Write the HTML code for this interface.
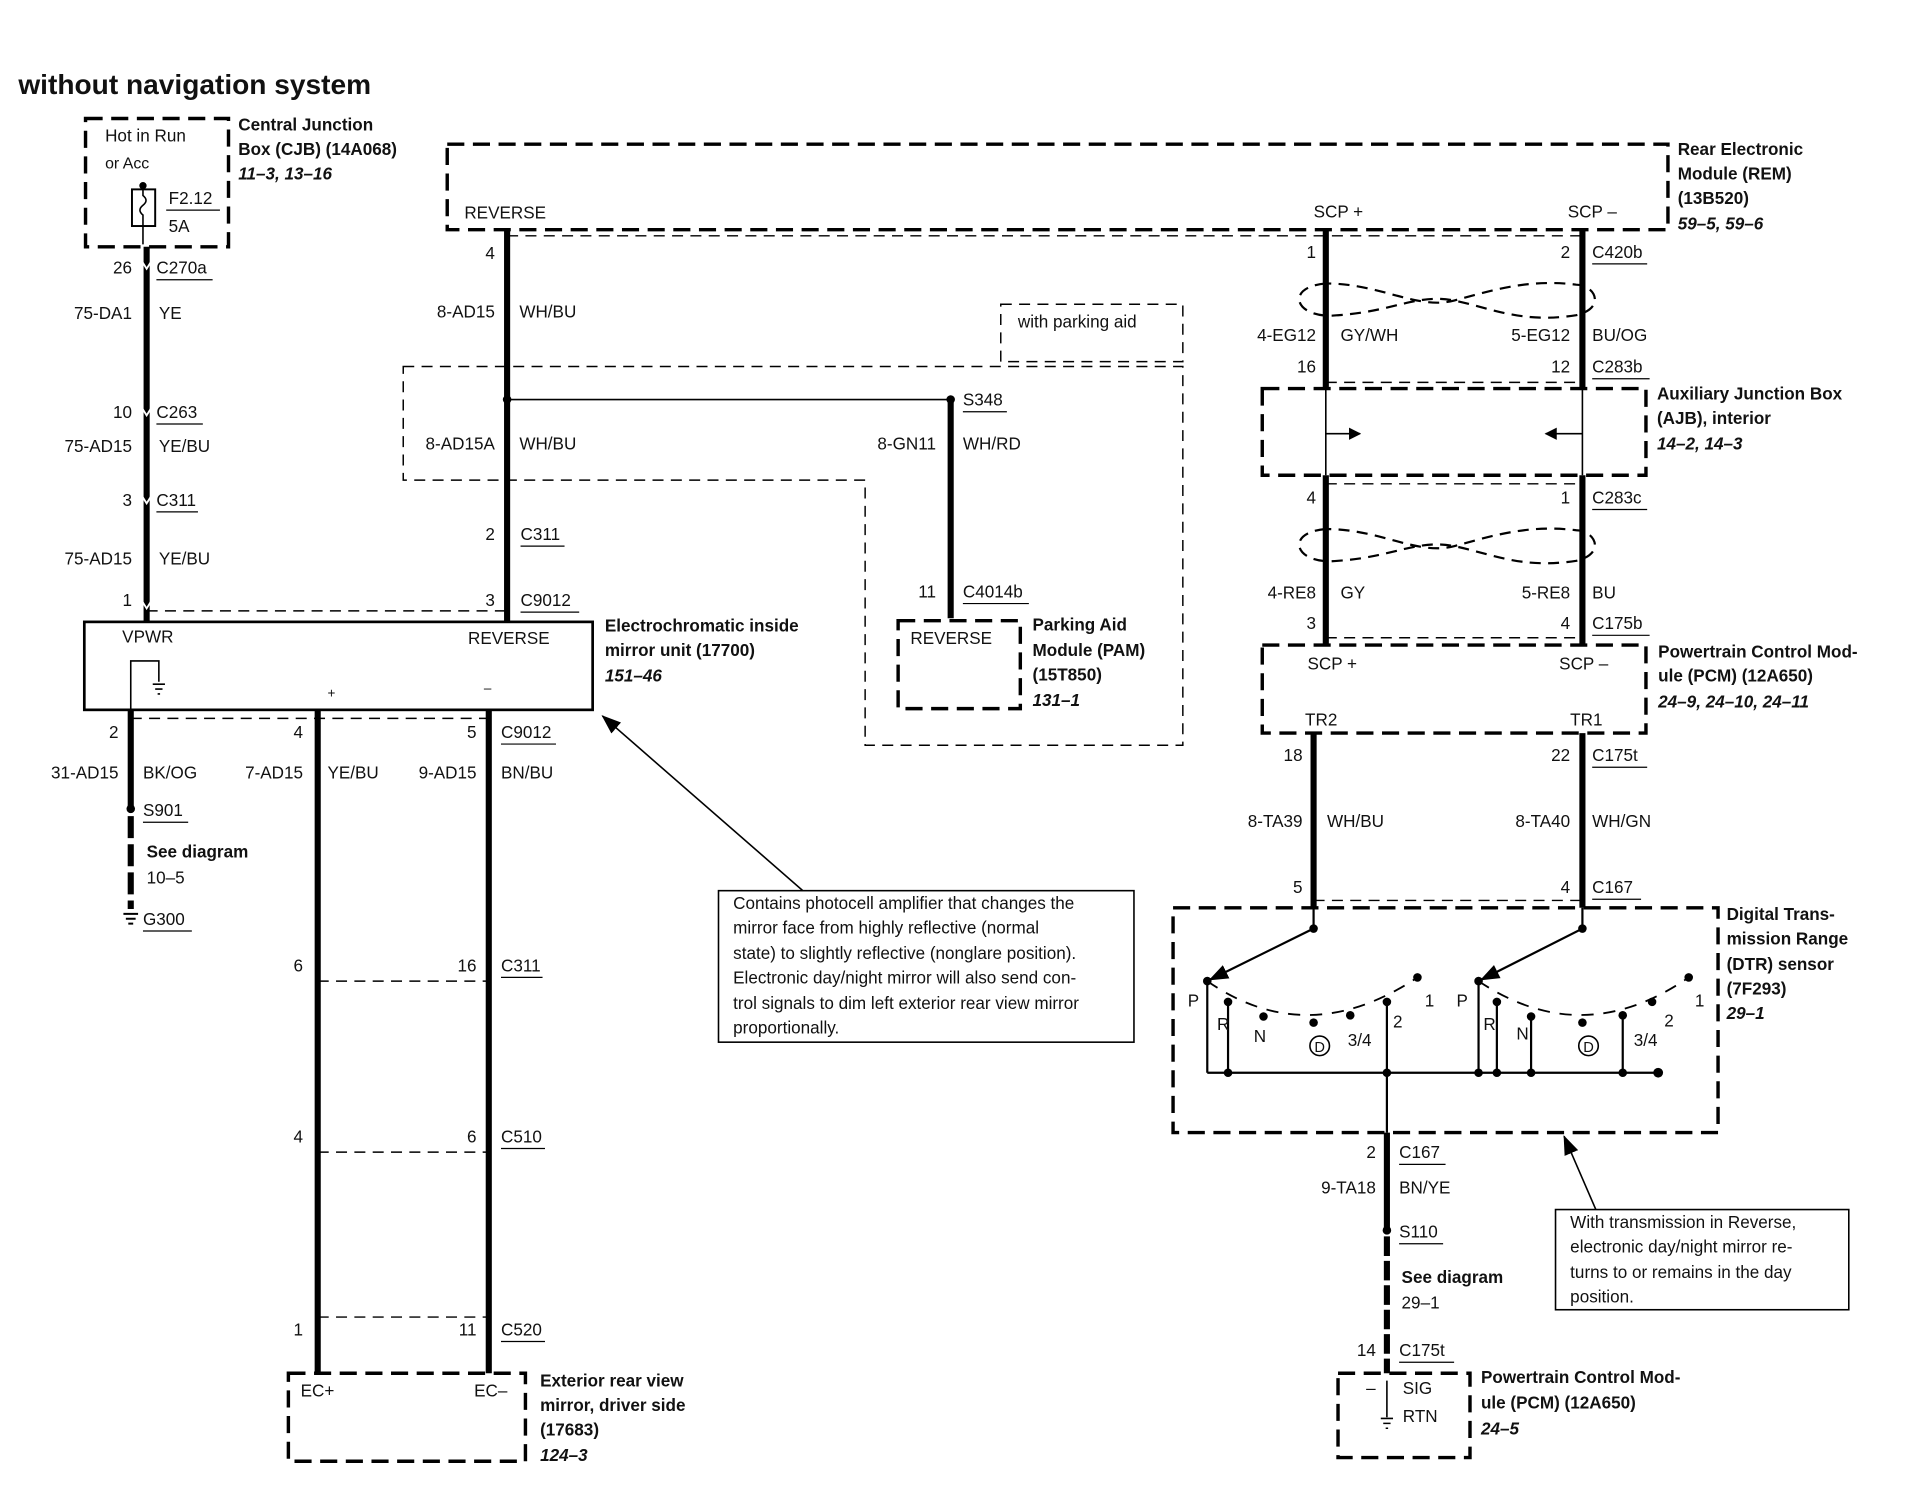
<!DOCTYPE html>
<html><head><meta charset="utf-8"><style>
html,body{margin:0;padding:0;background:#fff;}
svg{display:block;}
text{font-family:"Liberation Sans",Arial,sans-serif;font-size:14px;fill:#111;}
.b{font-weight:bold;}
.i{font-weight:bold;font-style:italic;}
.r{text-anchor:end;}
.w{stroke:#000;stroke-width:5;fill:none;}
.t{stroke:#000;stroke-width:1.3;fill:none;}
.d{stroke:#000;stroke-width:1.2;fill:none;stroke-dasharray:9 6;}
.D{stroke:#000;stroke-width:2.8;fill:none;stroke-dasharray:14 7;}
.s{stroke:#000;stroke-width:2.2;fill:none;}
.u{stroke:#000;stroke-width:1;}
</style></head><body>
<svg width="1916" height="1504" viewBox="0 0 1568 1231" preserveAspectRatio="none" xmlns="http://www.w3.org/2000/svg">
<defs>
<marker id="ah" markerWidth="10" markerHeight="10" refX="9" refY="5" orient="auto" markerUnits="userSpaceOnUse"><path d="M0,0 L10,5 L0,10 z" fill="#000"/></marker>
<marker id="ah2" markerWidth="16" markerHeight="12" refX="15" refY="6" orient="auto" markerUnits="userSpaceOnUse"><path d="M0,0 L16,6 L0,12 z" fill="#000"/></marker>
</defs>
<text x="15" y="77" class="b" style="font-size:23px">without navigation system</text>

<!-- CJB -->
<rect x="70" y="97" width="117" height="105" class="D"/>
<text x="86" y="116">Hot in Run</text>
<text x="86" y="138" style="font-size:13px">or Acc</text>
<rect x="108" y="155" width="19" height="30" class="s" style="stroke-width:1.6"/>
<path d="M117,152 V160 q5,4 0,8 q-5,4 0,8 V200" class="t"/>
<circle cx="117" cy="152" r="3"/>
<text x="138" y="167">F2.12</text><line x1="136" y1="172" x2="180" y2="172" class="u"/>
<text x="138" y="190">5A</text>
<text x="195" y="107" class="b">Central Junction</text>
<text x="195" y="127" class="b">Box (CJB) (14A068)</text>
<text x="195" y="147" class="i">11–3, 13–16</text>

<!-- wire 120 -->
<path d="M120,202 V509" class="w"/>
<path d="M115,212 l5,8 l5,-8 M115,332 l5,8 l5,-8 M115,404 l5,8 l5,-8 M115,490 l5,8 l5,-8" class="t" style="stroke:#fff;stroke-width:1.5"/>
<text x="108" y="224" class="r">26</text><text x="128" y="224">C270a</text><line x1="128" y1="229" x2="174" y2="229" class="u"/>
<text x="108" y="261" class="r">75-DA1</text><text x="130" y="261">YE</text>
<text x="108" y="342" class="r">10</text><text x="128" y="342">C263</text><line x1="128" y1="347" x2="166" y2="347" class="u"/>
<text x="108" y="370" class="r">75-AD15</text><text x="130" y="370">YE/BU</text>
<text x="108" y="414" class="r">3</text><text x="128" y="414">C311</text><line x1="128" y1="419" x2="162" y2="419" class="u"/>
<text x="108" y="462" class="r">75-AD15</text><text x="130" y="462">YE/BU</text>
<text x="108" y="496" class="r">1</text>
<path d="M120,500 H415" class="d"/>

<!-- mirror unit -->
<rect x="69" y="509" width="416" height="72" class="s"/>
<text x="100" y="526">VPWR</text>
<text x="383" y="527">REVERSE</text>
<path d="M107,581 V541 H130 V558" class="t"/>
<path d="M125,560 h10 M127,564 h6 M129,568 h2" class="t"/>
<text x="268" y="571" style="font-size:11px">+</text>
<text x="396" y="567" style="font-size:11px">–</text>
<text x="495" y="517" class="b">Electrochromatic inside</text>
<text x="495" y="537" class="b">mirror unit (17700)</text>
<text x="495" y="558" class="i">151–46</text>

<!-- wire 415 -->
<path d="M415,188 V509" class="w"/>
<text x="405" y="212" class="r">4</text>
<text x="405" y="260" class="r">8-AD15</text><text x="425" y="260">WH/BU</text>
<circle cx="415" cy="327" r="3.5"/>
<path d="M415,327 H778" class="t"/>
<circle cx="778" cy="327" r="3.5"/>
<text x="405" y="368" class="r">8-AD15A</text><text x="425" y="368">WH/BU</text>
<text x="405" y="442" class="r">2</text><text x="426" y="442">C311</text><line x1="426" y1="447" x2="462" y2="447" class="u"/>
<text x="405" y="496" class="r">3</text><text x="426" y="496">C9012</text><line x1="426" y1="501" x2="474" y2="501" class="u"/>

<!-- parking aid regions -->
<path d="M330,300 H968 V610 H708 V393 H330 Z" class="d"/>
<rect x="819" y="249" width="149" height="47" class="d"/>
<text x="833" y="268">with parking aid</text>
<path d="M778,327 V506" class="w"/>
<text x="788" y="332">S348</text><line x1="788" y1="337" x2="824" y2="337" class="u"/>
<text x="766" y="368" class="r">8-GN11</text><text x="788" y="368">WH/RD</text>
<text x="766" y="489" class="r">11</text><text x="788" y="489">C4014b</text><line x1="788" y1="494" x2="842" y2="494" class="u"/>
<rect x="735" y="508" width="100" height="72" class="D"/>
<text x="745" y="527">REVERSE</text>
<text x="845" y="516" class="b">Parking Aid</text>
<text x="845" y="537" class="b">Module (PAM)</text>
<text x="845" y="557" class="b">(15T850)</text>
<text x="845" y="578" class="i">131–1</text>

<!-- REM -->
<rect x="366" y="118" width="999" height="70" class="D"/>
<text x="380" y="179">REVERSE</text>
<text x="1075" y="178">SCP +</text>
<text x="1283" y="178">SCP –</text>
<text x="1373" y="127" class="b">Rear Electronic</text>
<text x="1373" y="147" class="b">Module (REM)</text>
<text x="1373" y="167" class="b">(13B520)</text>
<text x="1373" y="188" class="i">59–5, 59–6</text>
<path d="M415,193 H1295" class="d"/>

<!-- SCP wires -->
<path d="M1085,188 V318 M1295,188 V318 M1085,389 V528 M1295,389 V528" class="w"/>
<path d="M1085,318 V389 M1295,318 V389" class="t"/>
<path d="M1085,232 C1050,235 1060,262 1095,258 C1140,255 1160,240 1190,246 C1220,252 1245,265 1290,258 C1315,252 1305,233 1290,233 C1250,228 1220,238 1190,246 C1160,254 1130,232 1085,232 Z" class="d" style="stroke-width:1.8"/>
<path d="M1085,433 C1050,436 1060,463 1095,459 C1140,456 1160,441 1190,447 C1220,453 1245,466 1290,459 C1315,453 1305,434 1290,434 C1250,429 1220,439 1190,447 C1160,455 1130,433 1085,433 Z" class="d" style="stroke-width:1.8"/>
<text x="1077" y="211" class="r">1</text>
<text x="1285" y="211" class="r">2</text><text x="1303" y="211">C420b</text><line x1="1303" y1="216" x2="1348" y2="216" class="u"/>
<text x="1077" y="279" class="r">4-EG12</text><text x="1097" y="279">GY/WH</text>
<text x="1285" y="279" class="r">5-EG12</text><text x="1303" y="279">BU/OG</text>
<text x="1077" y="305" class="r">16</text>
<text x="1285" y="305" class="r">12</text><text x="1303" y="305">C283b</text><line x1="1303" y1="310" x2="1350" y2="310" class="u"/>
<path d="M1085,313 H1295" class="d"/>
<rect x="1033" y="318" width="314" height="71" class="D"/>
<path d="M1085,355 H1113" class="t" marker-end="url(#ah)"/>
<path d="M1295,355 H1265" class="t" marker-end="url(#ah)"/>
<text x="1356" y="327" class="b">Auxiliary Junction Box</text>
<text x="1356" y="347" class="b">(AJB), interior</text>
<text x="1356" y="368" class="i">14–2, 14–3</text>
<path d="M1085,396 H1295" class="d"/>
<text x="1077" y="412" class="r">4</text>
<text x="1285" y="412" class="r">1</text><text x="1303" y="412">C283c</text><line x1="1303" y1="417" x2="1348" y2="417" class="u"/>
<text x="1077" y="490" class="r">4-RE8</text><text x="1097" y="490">GY</text>
<text x="1285" y="490" class="r">5-RE8</text><text x="1303" y="490">BU</text>
<text x="1077" y="515" class="r">3</text>
<text x="1285" y="515" class="r">4</text><text x="1303" y="515">C175b</text><line x1="1303" y1="520" x2="1350" y2="520" class="u"/>
<path d="M1085,522 H1295" class="d"/>

<!-- PCM -->
<rect x="1033" y="528" width="314" height="72" class="D"/>
<text x="1070" y="548">SCP +</text>
<text x="1276" y="548">SCP –</text>
<text x="1068" y="594">TR2</text>
<text x="1285" y="594">TR1</text>
<text x="1357" y="538" class="b">Powertrain Control Mod-</text>
<text x="1357" y="558" class="b">ule (PCM) (12A650)</text>
<text x="1357" y="579" class="i">24–9, 24–10, 24–11</text>
<path d="M1075,600 V743 M1295,600 V743" class="w"/>
<text x="1066" y="623" class="r">18</text>
<text x="1285" y="623" class="r">22</text><text x="1303" y="623">C175t</text><line x1="1303" y1="628" x2="1348" y2="628" class="u"/>
<text x="1066" y="677" class="r">8-TA39</text><text x="1086" y="677">WH/BU</text>
<text x="1285" y="677" class="r">8-TA40</text><text x="1303" y="677">WH/GN</text>
<text x="1066" y="731" class="r">5</text>
<text x="1285" y="731" class="r">4</text><text x="1303" y="731">C167</text><line x1="1303" y1="736" x2="1343" y2="736" class="u"/>
<path d="M1075,737 H1295" class="d"/>

<!-- DTR -->
<rect x="960" y="743" width="446" height="184" class="D"/>
<text x="1413" y="753" class="b">Digital Trans-</text>
<text x="1413" y="773" class="b">mission Range</text>
<text x="1413" y="794" class="b">(DTR) sensor</text>
<text x="1413" y="814" class="b">(7F293)</text>
<text x="1413" y="834" class="i">29–1</text>
<g fill="#000">
<path d="M1075,743 V760 L990,802" class="t" style="stroke-width:1.8" marker-end="url(#ah2)"/>
<circle cx="1075" cy="760" r="3.5"/>
<path d="M988,803 Q1070,860 1160,800" class="d" style="stroke-dasharray:10 8;stroke-width:1.5"/>
<circle cx="988" cy="803" r="3.5"/><circle cx="1005" cy="820" r="3.5"/><circle cx="1034" cy="832" r="3.5"/><circle cx="1075" cy="837" r="3.5"/><circle cx="1105" cy="831" r="3.5"/><circle cx="1135" cy="820" r="3.5"/><circle cx="1160" cy="800" r="3.5"/>
<path d="M988,803 V878 M1005,820 V878 M1135,820 V878 M988,878 H1357" class="t" style="stroke-width:1.8"/>
<circle cx="1005" cy="878" r="3.5"/><circle cx="1135" cy="878" r="3.5"/><circle cx="1210" cy="878" r="3.5"/><circle cx="1225" cy="878" r="3.5"/><circle cx="1253" cy="878" r="3.5"/><circle cx="1328" cy="878" r="3.5"/><circle cx="1357" cy="878" r="4"/>
<path d="M1295,743 V760 L1212,802" class="t" style="stroke-width:1.8" marker-end="url(#ah2)"/>
<circle cx="1295" cy="760" r="3.5"/>
<path d="M1210,803 Q1295,860 1382,800" class="d" style="stroke-dasharray:10 8;stroke-width:1.5"/>
<circle cx="1210" cy="803" r="3.5"/><circle cx="1225" cy="820" r="3.5"/><circle cx="1253" cy="832" r="3.5"/><circle cx="1295" cy="837" r="3.5"/><circle cx="1328" cy="831" r="3.5"/><circle cx="1352" cy="820" r="3.5"/><circle cx="1382" cy="800" r="3.5"/>
<path d="M1210,803 V878 M1225,820 V878 M1253,832 V878 M1328,831 V878" class="t" style="stroke-width:1.8"/>
</g>
<text x="972" y="824">P</text><text x="996" y="843">R</text><text x="1026" y="853">N</text>
<circle cx="1080" cy="856" r="8" class="t"/><text x="1080" y="861" style="font-size:12px;text-anchor:middle">D</text>
<text x="1103" y="856">3/4</text><text x="1140" y="841">2</text><text x="1166" y="824">1</text>
<text x="1192" y="824">P</text><text x="1214" y="843">R</text><text x="1241" y="851">N</text>
<circle cx="1300" cy="856" r="8" class="t"/><text x="1300" y="861" style="font-size:12px;text-anchor:middle">D</text>
<text x="1337" y="856">3/4</text><text x="1362" y="840">2</text><text x="1387" y="824">1</text>

<!-- bottom PCM wire -->
<path d="M1135,878 V927" class="t" style="stroke-width:1.8"/>
<path d="M1135,927 V1005" class="w"/>
<circle cx="1135" cy="1007" r="3.5"/>
<path d="M1135,1012 V1124" class="w" style="stroke-dasharray:16 4"/>
<text x="1126" y="948" class="r">2</text><text x="1145" y="948">C167</text><line x1="1145" y1="953" x2="1183" y2="953" class="u"/>
<text x="1126" y="977" class="r">9-TA18</text><text x="1145" y="977">BN/YE</text>
<text x="1145" y="1013">S110</text><line x1="1145" y1="1018" x2="1181" y2="1018" class="u"/>
<text x="1147" y="1050" class="b">See diagram</text>
<text x="1147" y="1071">29–1</text>
<text x="1126" y="1110" class="r">14</text><text x="1145" y="1110">C175t</text><line x1="1145" y1="1115" x2="1190" y2="1115" class="u"/>
<rect x="1095" y="1124" width="108" height="69" class="D"/>
<text x="1118" y="1141">–</text>
<text x="1148" y="1141">SIG</text>
<text x="1148" y="1164">RTN</text>
<path d="M1135,1130 V1160 M1130,1161 h10 M1132,1165 h6 M1134,1169 h2" class="t"/>
<text x="1212" y="1132" class="b">Powertrain Control Mod-</text>
<text x="1212" y="1153" class="b">ule (PCM) (12A650)</text>
<text x="1212" y="1174" class="i">24–5</text>

<!-- note 2 -->
<rect x="1273" y="990" width="240" height="82" class="t"/>
<text x="1285" y="1005">With transmission in Reverse,</text>
<text x="1285" y="1025">electronic day/night mirror re-</text>
<text x="1285" y="1046">turns to or remains in the day</text>
<text x="1285" y="1066">position.</text>
<path d="M1306,990 L1280,930" class="t" marker-end="url(#ah2)"/>

<!-- note 1 -->
<rect x="588" y="729" width="340" height="124" class="t"/>
<text x="600" y="744">Contains photocell amplifier that changes the</text>
<text x="600" y="764">mirror face from highly reflective (normal</text>
<text x="600" y="785">state) to slightly reflective (nonglare position).</text>
<text x="600" y="805">Electronic day/night mirror will also send con-</text>
<text x="600" y="826">trol signals to dim left exterior rear view mirror</text>
<text x="600" y="846">proportionally.</text>
<path d="M657,729 L493,586" class="t" marker-end="url(#ah2)"/>

<!-- lower left wires -->
<path d="M107,588 H400" class="d"/>
<path d="M107,581 V660" class="w"/>
<circle cx="107" cy="662" r="3.5"/>
<path d="M107,668 V744" class="w" style="stroke-dasharray:18 5"/>
<path d="M101,748 h12 M103,752 h8 M105,756 h4" class="t" style="stroke-width:1.6"/>
<text x="97" y="604" class="r">2</text>
<text x="97" y="637" class="r">31-AD15</text><text x="117" y="637">BK/OG</text>
<text x="117" y="668">S901</text><line x1="117" y1="673" x2="154" y2="673" class="u"/>
<text x="120" y="702" class="b">See diagram</text>
<text x="120" y="723">10–5</text>
<text x="117" y="757">G300</text><line x1="117" y1="762" x2="157" y2="762" class="u"/>

<path d="M260,581 V1124 M400,581 V1124" class="w"/>
<text x="248" y="604" class="r">4</text>
<text x="248" y="637" class="r">7-AD15</text><text x="268" y="637">YE/BU</text>
<text x="390" y="604" class="r">5</text><text x="410" y="604">C9012</text><line x1="410" y1="609" x2="455" y2="609" class="u"/>
<text x="390" y="637" class="r">9-AD15</text><text x="410" y="637">BN/BU</text>
<text x="248" y="795" class="r">6</text>
<text x="390" y="795" class="r">16</text><text x="410" y="795">C311</text><line x1="410" y1="800" x2="444" y2="800" class="u"/>
<path d="M260,803 H400" class="d"/>
<text x="248" y="935" class="r">4</text>
<text x="390" y="935" class="r">6</text><text x="410" y="935">C510</text><line x1="410" y1="940" x2="446" y2="940" class="u"/>
<path d="M260,943 H400" class="d"/>
<path d="M260,1078 H400" class="d"/>
<text x="248" y="1093" class="r">1</text>
<text x="390" y="1093" class="r">11</text><text x="410" y="1093">C520</text><line x1="410" y1="1098" x2="446" y2="1098" class="u"/>
<rect x="236" y="1124" width="194" height="72" class="D"/>
<text x="246" y="1143">EC+</text>
<text x="388" y="1143">EC–</text>
<text x="442" y="1135" class="b">Exterior rear view</text>
<text x="442" y="1155" class="b">mirror, driver side</text>
<text x="442" y="1175" class="b">(17683)</text>
<text x="442" y="1196" class="i">124–3</text>
</svg>
</body></html>
